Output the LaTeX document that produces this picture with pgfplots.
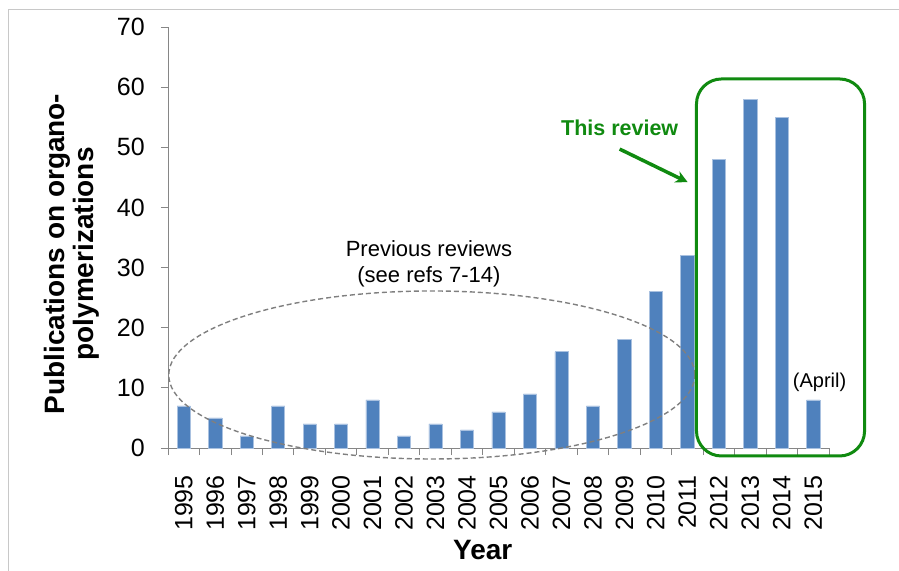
\documentclass[border=0pt]{standalone}
\usepackage{pgfplots}
\pgfplotsset{compat=1.18}
\usetikzlibrary{arrows.meta}
\usepackage{fontspec}
\setmainfont{Liberation Sans}
\definecolor{barblue}{HTML}{4F81BD}
\definecolor{baredge}{HTML}{A9C1E0}
\definecolor{axisgray}{HTML}{868686}
\definecolor{boxgreen}{HTML}{108A10}
\definecolor{framegray}{HTML}{C8C8C8}
\definecolor{ellgray}{HTML}{7F7F7F}
\begin{document}
\begin{tikzpicture}
\useasboundingbox (0,0) rectangle (899bp,571bp);
\draw[framegray, line width=1bp] (8bp,0) -- (8bp,561bp) -- (899bp,561bp);
\begin{axis}[
  at={(168bp,123bp)}, anchor=south west,
  scale only axis, width=661bp, height=421bp,
  xmin=-0.5, xmax=20.5, ymin=0, ymax=70,
  clip=false,
  axis x line=bottom, axis y line=left,
  axis line style={-, draw=axisgray, line width=0.9bp},
  ybar, bar width=0.42,
  xtick={0,...,20},
  xticklabels={1995,1996,1997,1998,1999,2000,2001,2002,2003,2004,2005,2006,2007,2008,2009,2010,2011,2012,2013,2014,2015},
  minor xtick={-0.5,0.5,...,20.5},
  ytick={0,10,...,70},
  tick align=outside,
  major tick length=7bp, minor tick length=7bp,
  every tick/.style={draw=axisgray, line width=0.9bp},
  every major x tick/.style={draw=none},
  /pgf/number format/assume math mode=true,
  yticklabel style={font=\fontsize{25bp}{25bp}\selectfont, inner sep=0pt, anchor=east},
  yticklabel shift=16bp,
  xticklabel style={font=\fontsize{25bp}{25bp}\selectfont, rotate=90, anchor=east, inner sep=0pt},
  xticklabel shift=20bp,
]
\addplot[fill=barblue, draw=baredge, line width=0.6bp] coordinates {
(0,7) (1,5) (2,2) (3,7) (4,4) (5,4) (6,8) (7,2) (8,4) (9,3)
(10,6) (11,9) (12,16) (13,7) (14,18) (15,26) (16,32) (17,48) (18,58) (19,55) (20,8)};
% annotations
\draw[ellgray, line width=1.4bp, dash pattern=on 5bp off 3bp] (axis cs:7.88,12.14) ellipse [x radius=263bp, y radius=84bp];
\node[align=center, font=\fontsize{22bp}{26bp}\selectfont] at (axis cs:7.79,30.6) {Previous reviews\\(see refs 7-14)};
\draw[boxgreen, line width=3bp, rounded corners=25bp] (axis cs:16.29,-1.33) rectangle (axis cs:21.63,61.36);
\node[boxgreen, font=\fontsize{21.5bp}{24bp}\selectfont\bfseries] at (axis cs:13.85,53.2) {This review};
\draw[boxgreen, line width=3.5bp, -{Stealth[length=12bp,width=12bp]}] (axis cs:13.85,49.7) -- (axis cs:16.01,44.2);
\node[font=\fontsize{20bp}{24bp}\selectfont] at (axis cs:20.2,10.97) {(April)};
\node[font=\fontsize{28bp}{30bp}\selectfont\bfseries] at (axis cs:9.5,-16.96) {Year};
\node[rotate=90, align=center, font=\fontsize{28bp}{29bp}\selectfont\bfseries] at (axis cs:-3.55,32.26) {Publications on organo-\\polymerizations};
\end{axis}
\end{tikzpicture}
\end{document}
